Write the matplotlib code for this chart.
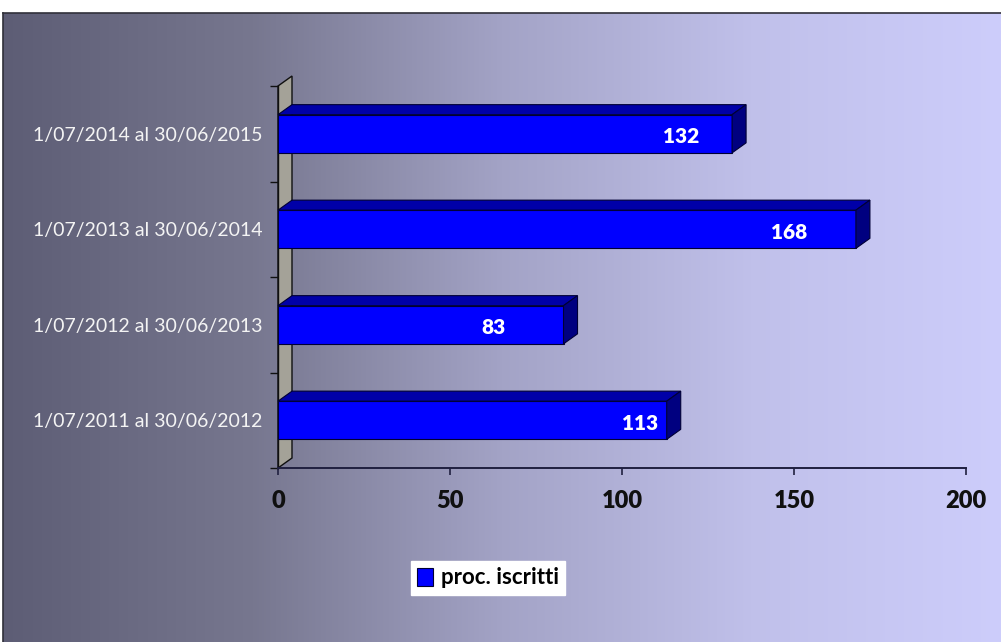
import numpy as np
import matplotlib
matplotlib.use("Agg")
import matplotlib.pyplot as plt
from matplotlib.patches import Polygon, Patch
from matplotlib.colors import to_rgb

# Data
periods = [
    "1/07/2011 al 30/06/2012",
    "1/07/2012 al 30/06/2013",
    "1/07/2013 al 30/06/2014",
    "1/07/2014 al 30/06/2015",
]
iscritti = [113, 83, 168, 132]
label_shift = [7.8, 20.3, 19.5, 14.8]   # how far inside the bar end each value label sits
x_ticks = [0, 50, 100, 150, 200]
series_name = "proc. iscritti"

W, H, DPI = 1001, 642, 100
fig = plt.figure(figsize=(W / DPI, H / DPI), dpi=DPI, facecolor="white")

# Chart-area background: horizontal gradient
bg = fig.add_axes([3 / W, 0, 998 / W, 629 / H])
stops = [(0.0, "#5d5d75"), (0.25, "#77778f"), (0.5, "#a3a3c6"),
         (0.75, "#c0c0ea"), (1.0, "#cdcdfb")]
xs = np.linspace(0, 1, 600)
pos = [s[0] for s in stops]
cols = np.array([to_rgb(s[1]) for s in stops])
grad = np.stack([np.interp(xs, pos, cols[:, k]) for k in range(3)], axis=-1)[None, :, :]
bg.imshow(grad, aspect="auto", extent=[0, 1, 0, 1])
bg.set_xlim(0, 1)
bg.set_ylim(0, 1)
bg.set_xticks([])
bg.set_yticks([])
for side in ("right", "bottom"):
    bg.spines[side].set_visible(False)
for side in ("top", "left"):
    bg.spines[side].set_color("#30303a")
    bg.spines[side].set_linewidth(1.2)

# Plot area
x0, x1 = 278, 966
yb, yt = 468, 86
ax = fig.add_axes([x0 / W, (H - yb) / H, (x1 - x0) / W, (yb - yt) / H])
ax.patch.set_alpha(0)
ax.set_xlim(0, 200)
ax.set_ylim(-0.5, 3.5)

px_x = 200 / (x1 - x0)
px_y = 4 / (yb - yt)
dx = 14 * px_x
dy = 10 * px_y
edge = "#000035"

# Side wall
wall = Polygon([(0, -0.5), (dx, -0.5 + dy), (dx, 3.5 + dy), (0, 3.5)],
               closed=True, facecolor="#a4a298", edgecolor="#101010",
               linewidth=1.0, clip_on=False, zorder=1)
ax.add_patch(wall)

# 3D bars
bh = 0.4
for i, v in enumerate(iscritti):
    y0, y1 = i - bh / 2, i + bh / 2
    front = Polygon([(0, y0), (v, y0), (v, y1), (0, y1)], closed=True,
                    facecolor="#0000ff", edgecolor=edge, linewidth=0.8,
                    clip_on=False, zorder=3)
    top = Polygon([(0, y1), (v, y1), (v + dx, y1 + dy), (dx, y1 + dy)], closed=True,
                  facecolor="#0000a8", edgecolor=edge, linewidth=0.8,
                  clip_on=False, zorder=3)
    side = Polygon([(v, y0), (v + dx, y0 + dy), (v + dx, y1 + dy), (v, y1)], closed=True,
                   facecolor="#000080", edgecolor=edge, linewidth=0.8,
                   clip_on=False, zorder=3)
    for p in (front, top, side):
        ax.add_patch(p)
    ax.text(v - label_shift[i], i - 0.03, str(v), ha="center", va="center",
            color="white", fontsize=15, fontweight="heavy", family="Lato", zorder=4)

# Axes styling
for side in ("top", "right"):
    ax.spines[side].set_visible(False)
ax.spines["bottom"].set_color("#202040")
ax.spines["bottom"].set_linewidth(1.4)
ax.spines["left"].set_color("#101010")
ax.spines["left"].set_linewidth(1.0)

ax.set_xticks(x_ticks)
ax.set_xticklabels([str(t) for t in x_ticks], fontsize=17, fontweight="heavy",
                   family="Lato", color="#101010")
ax.tick_params(axis="x", direction="out", length=5, width=1.2, color="#202040", pad=11)

ax.set_yticks(range(len(periods)))
ax.set_yticklabels(periods, fontsize=14, family="Lato", color="#f4f4f4")
ax.tick_params(axis="y", which="major", length=0, pad=11)
ax.set_yticks(np.arange(-0.5, 4.0, 1.0), minor=True)
ax.tick_params(axis="y", which="minor", direction="out", length=6, width=1.0, color="#101010")

# Legend
handle = Patch(facecolor="#0000ff", edgecolor="#000035", linewidth=0.8, label=series_name)
leg = fig.legend(handles=[handle], loc="center", bbox_to_anchor=(488 / W, (H - 578) / H),
                 frameon=True, fancybox=False, handlelength=0.7, handleheight=0.9,
                 handletextpad=0.35, borderpad=0.3,
                 prop={"family": "Lato", "weight": "bold", "size": 16})
leg.get_frame().set_facecolor("white")
leg.get_frame().set_edgecolor("white")
leg.get_frame().set_alpha(1)

fig.savefig("out.png", dpi=DPI, facecolor="white")
